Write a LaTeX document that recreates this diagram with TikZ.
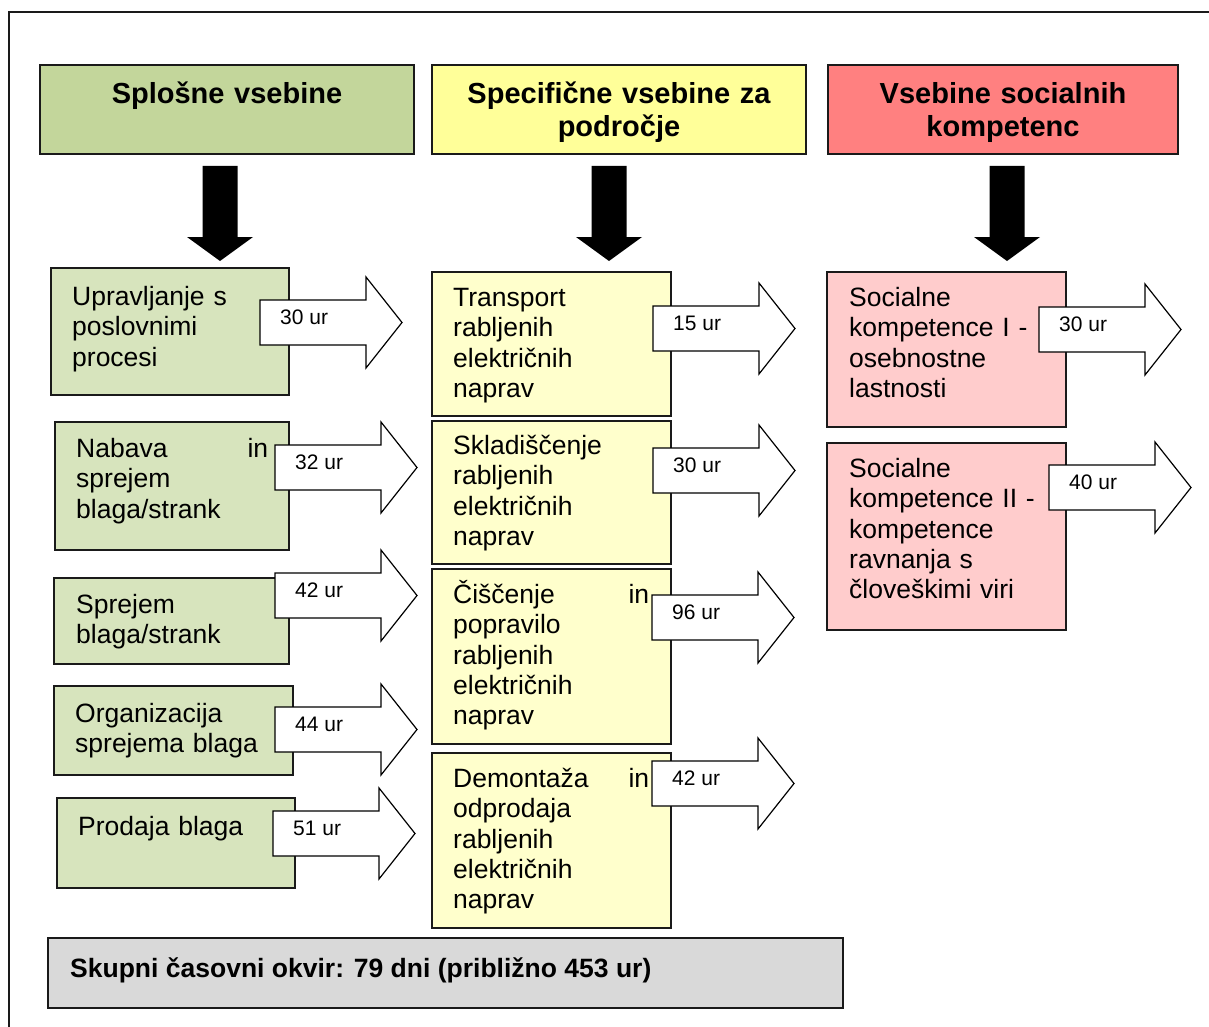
\documentclass[tikz,border=0pt]{standalone}
\usepackage{fontspec}
\setmainfont{Liberation Sans}
\usetikzlibrary{calc}
\definecolor{hgreen}{HTML}{C3D69B}
\definecolor{hyellow}{HTML}{FFFF99}
\definecolor{hred}{HTML}{FF8080}
\definecolor{bgreen}{HTML}{D7E4BD}
\definecolor{byellow}{HTML}{FFFFCC}
\definecolor{bred}{HTML}{FFCCCC}
\definecolor{bgray}{HTML}{D9D9D9}
\definecolor{edge}{HTML}{1A1A1A}
\tikzset{
  boxbase/.style={draw=edge, line width=1.5pt, anchor=north west, inner sep=0pt, outer sep=0pt},
  hgbox/.style={boxbase, fill=hgreen},
  hybox/.style={boxbase, fill=hyellow},
  hrbox/.style={boxbase, fill=hred},
  gbox/.style={boxbase, fill=bgreen},
  ybox/.style={boxbase, fill=byellow},
  rbox/.style={boxbase, fill=bred},
  graybox/.style={boxbase, fill=bgray},
  bodytxt/.style={anchor=north west, inner sep=0pt, align=left, font=\fontsize{26.5}{30.4}\selectfont},
  headtxt/.style={anchor=north, inner sep=0pt, align=center, text width=360pt, font=\fontsize{29}{33}\selectfont\bfseries},
  lbltxt/.style={anchor=base west, inner sep=0pt, font=\fontsize{21}{24}\selectfont},
  barrow/.style={draw=black, fill=white, line width=1.2pt, line join=miter},
  darrow/.style={fill=black},
}
\newcommand\mkbox[6]{\node[#1, minimum width=#4pt, minimum height=#5pt] (#6) at (#2,#3) {};}
\newcommand\mktxt[5]{\node[bodytxt, text width=#4pt] (#5) at (#1,{#2-26}) {\rule{0pt}{26pt}#3};}
\newcommand\mkarrow[4]{%
  \draw[barrow] (#1,#2) -- ++(106,0) -- ++(0,-23) -- ++(36,45.5) -- ++(-36,45.5) -- ++(0,-23) -- ++(-106,0) -- cycle;
  \node[lbltxt] (#4) at ({#1+20},{#2+24}) {#3};}
\newcommand\mkdown[2]{%
  \fill[darrow] ({#1-17.5},166) -- ({#1+17.5},166) -- ({#1+17.5},237) -- ({#1+33},237) -- (#1,261) -- ({#1-33},237) -- ({#1-17.5},237) -- cycle;
  \coordinate (#2) at (#1,261);}
\begin{document}
\begin{tikzpicture}[x=1pt,y=-1pt]
\useasboundingbox (0,0) rectangle (1209,1027);
\fill[white] (0,0) rectangle (1209,1027);
% outer frame
\draw[line width=1.3pt, edge] (9,1027) -- (9,12) -- (1209,12);

% header boxes
\mkbox{hgbox}{40}{65}{374}{89}{h1}
\mkbox{hybox}{432}{65}{374}{89}{h2}
\mkbox{hrbox}{828}{65}{350}{89}{h3}
\node[headtxt] (h1t) at (227,75) {\rule{0pt}{28pt}Splošne vsebine};
\node[headtxt] (h2t) at (619,75) {\rule{0pt}{28pt}Specifične vsebine za\\področje};
\node[headtxt] (h3t) at (1003,75) {\rule{0pt}{28pt}Vsebine socialnih\\kompetenc};

% down arrows
\mkdown{220}{d1}
\mkdown{609}{d2}
\mkdown{1007}{d3}

% green column
\mkbox{gbox}{51}{268}{238}{127}{g1}
\mkbox{gbox}{55}{422}{234}{128}{g2}
\mkbox{gbox}{54}{578}{235}{86}{g3}
\mkbox{gbox}{54}{686}{239}{89}{g4}
\mkbox{gbox}{57}{798}{238}{90}{g5}
\mktxt{72}{305}{Upravljanje s\\poslovnimi\\procesi}{200}{g1t}
\mktxt{76}{457}{Nabava\hfill in\\sprejem\\blaga/strank}{192}{g2t}
\mktxt{76}{613}{Sprejem\\blaga/strank}{200}{g3t}
\mktxt{75}{722}{Organizacija\\sprejema blaga}{210}{g4t}
\mktxt{78}{835}{Prodaja blaga}{200}{g5t}

% yellow column
\mkbox{ybox}{432}{272}{239}{144}{y1}
\mkbox{ybox}{432}{421}{239}{143}{y2}
\mkbox{ybox}{432}{569}{239}{175}{y3}
\mkbox{ybox}{432}{753}{239}{175}{y4}
\mktxt{453}{306}{Transport\\rabljenih\\električnih\\naprav}{196}{y1t}
\mktxt{453}{454}{Skladiščenje\\rabljenih\\električnih\\naprav}{196}{y2t}
\mktxt{453}{603}{Čiščenje\hfill in\\popravilo\\rabljenih\\električnih\\naprav}{196}{y3t}
\mktxt{453}{787}{Demontaža\hfill in\\odprodaja\\rabljenih\\električnih\\naprav}{196}{y4t}

% red column
\mkbox{rbox}{827}{272}{239}{155}{r1}
\mkbox{rbox}{827}{443}{239}{187}{r2}
\mktxt{849}{306}{Socialne\\kompetence I -\\osebnostne\\lastnosti}{210}{r1t}
\mktxt{849}{477}{Socialne\\kompetence II -\\kompetence\\ravnanja s\\človeškimi viri}{210}{r2t}

% block arrows
\mkarrow{260}{300}{30 ur}{a1}
\mkarrow{275}{445}{32 ur}{a2}
\mkarrow{275}{573}{42 ur}{a3}
\mkarrow{275}{707}{44 ur}{a4}
\mkarrow{273}{811}{51 ur}{a5}
\mkarrow{653}{306}{15 ur}{a6}
\mkarrow{653}{448}{30 ur}{a7}
\mkarrow{652}{595}{96 ur}{a8}
\mkarrow{652}{761}{42 ur}{a9}
\mkarrow{1039}{307}{30 ur}{a10}
\mkarrow{1049}{465}{40 ur}{a11}

% total
\mkbox{graybox}{48}{938}{795}{70}{tot}
\node[anchor=base west, inner sep=0pt, font=\fontsize{26.5}{30}\selectfont\bfseries] (tott) at (70,977) {Skupni časovni okvir: 79 dni (približno 453 ur)};
\end{tikzpicture}
\end{document}
